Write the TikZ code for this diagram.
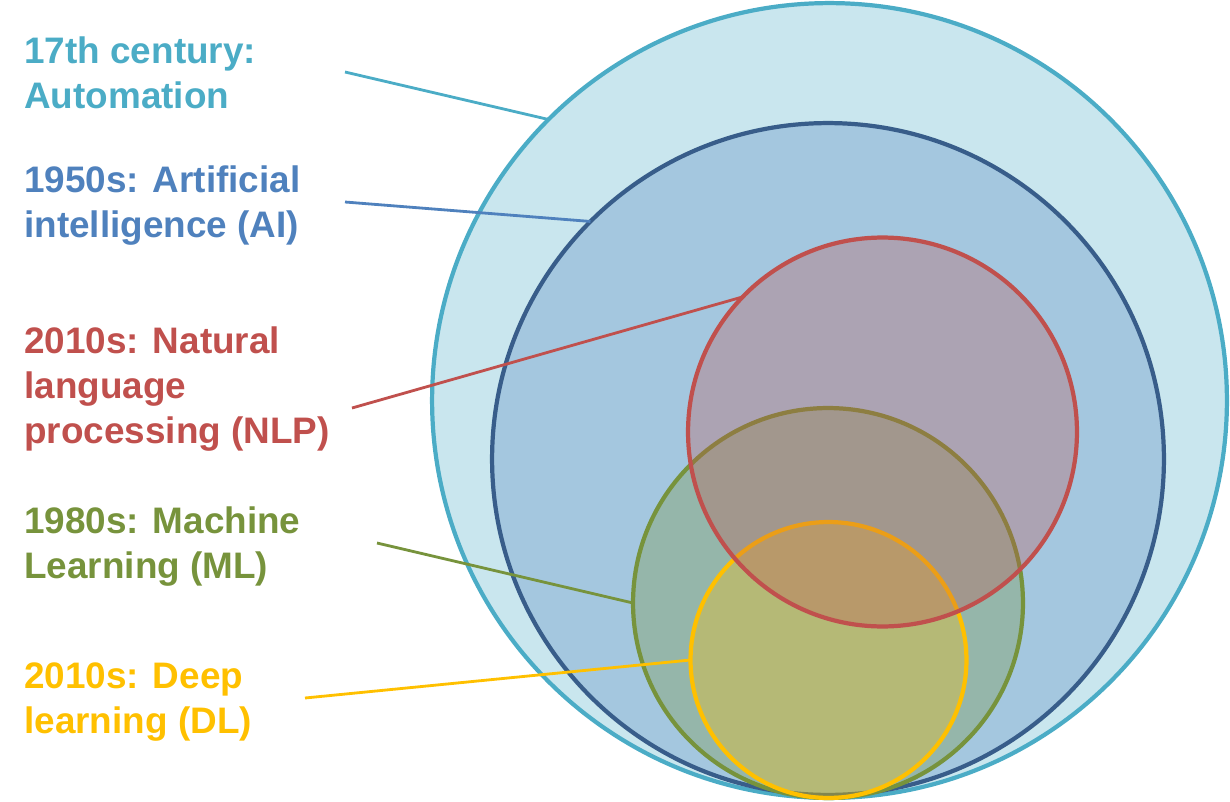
\documentclass[tikz,border=0pt]{standalone}
\usepackage{fontspec}
\setmainfont{Liberation Sans}
\usepackage{xcolor}
\usepackage{tikz}

\definecolor{autoblue}{HTML}{4BACC6}
\definecolor{aiblue}{HTML}{4F81BD}
\definecolor{aiedge}{HTML}{385D8A}
\definecolor{nlpred}{HTML}{C0504D}
\definecolor{mlgreen}{HTML}{77933C}
\definecolor{dlyellow}{HTML}{FFC000}

\begin{document}
\begin{tikzpicture}[x=0.02cm,y=-0.02cm,
  ring/.style={circle,draw=#1,line width=2.4pt,inner sep=0pt,outer sep=0pt},
  lead/.style={line width=1.6pt},
  tag/.style={anchor=base west,align=left,inner sep=0pt,font=\fontsize{21}{25.5}\selectfont\bfseries}]
  \useasboundingbox (0,0) rectangle (1230,801);
  \node[ring=autoblue,fill=autoblue,fill opacity=0.3,minimum size=15.9cm] (auto) at (829.5,400.5) {};
  \node[ring=aiedge,fill=aiblue,fill opacity=0.3,minimum size=13.44cm] (ai) at (828,459) {};
  \node[ring=mlgreen,fill=mlgreen,fill opacity=0.32,minimum size=7.8cm] (ml) at (828,603) {};
  \node[ring=dlyellow,fill=dlyellow,fill opacity=0.3,minimum size=5.52cm] (dl) at (828.5,660) {};
  \node[ring=nlpred,fill=nlpred,fill opacity=0.3,minimum size=7.78cm] (nlp) at (882.5,432) {};
  % label ends
  \coordinate (autoend) at (345,72);
  \coordinate (aiend) at (345,202);
  \coordinate (nlpend) at (352,408);
  \coordinate (mlend) at (377,543);
  \coordinate (dlend) at (305,698);
  \draw[lead,autoblue] (autoend) -- (auto.135);
  \draw[lead,aiblue] (aiend) -- (ai.135);
  \draw[lead,nlpred] (nlpend) -- (nlp.136);
  \draw[lead,mlgreen] (mlend) -- (ml.180);
  \draw[lead,dlyellow] (dlend) -- (dl.180);
  % labels (base = last line)
  \node[tag,text=autoblue] (autotag) at (24,108) {17th century:\\Automation};
  \node[tag,text=aiblue] (aitag) at (24,237) {1950s: Artificial\\intelligence (AI)};
  \node[tag,text=nlpred] (nlptag) at (24,443) {2010s: Natural\\language\\processing (NLP)};
  \node[tag,text=mlgreen] (mltag) at (24,578) {1980s: Machine\\Learning (ML)};
  \node[tag,text=dlyellow] (dltag) at (24,733) {2010s: Deep\\learning (DL)};
\end{tikzpicture}
\end{document}
